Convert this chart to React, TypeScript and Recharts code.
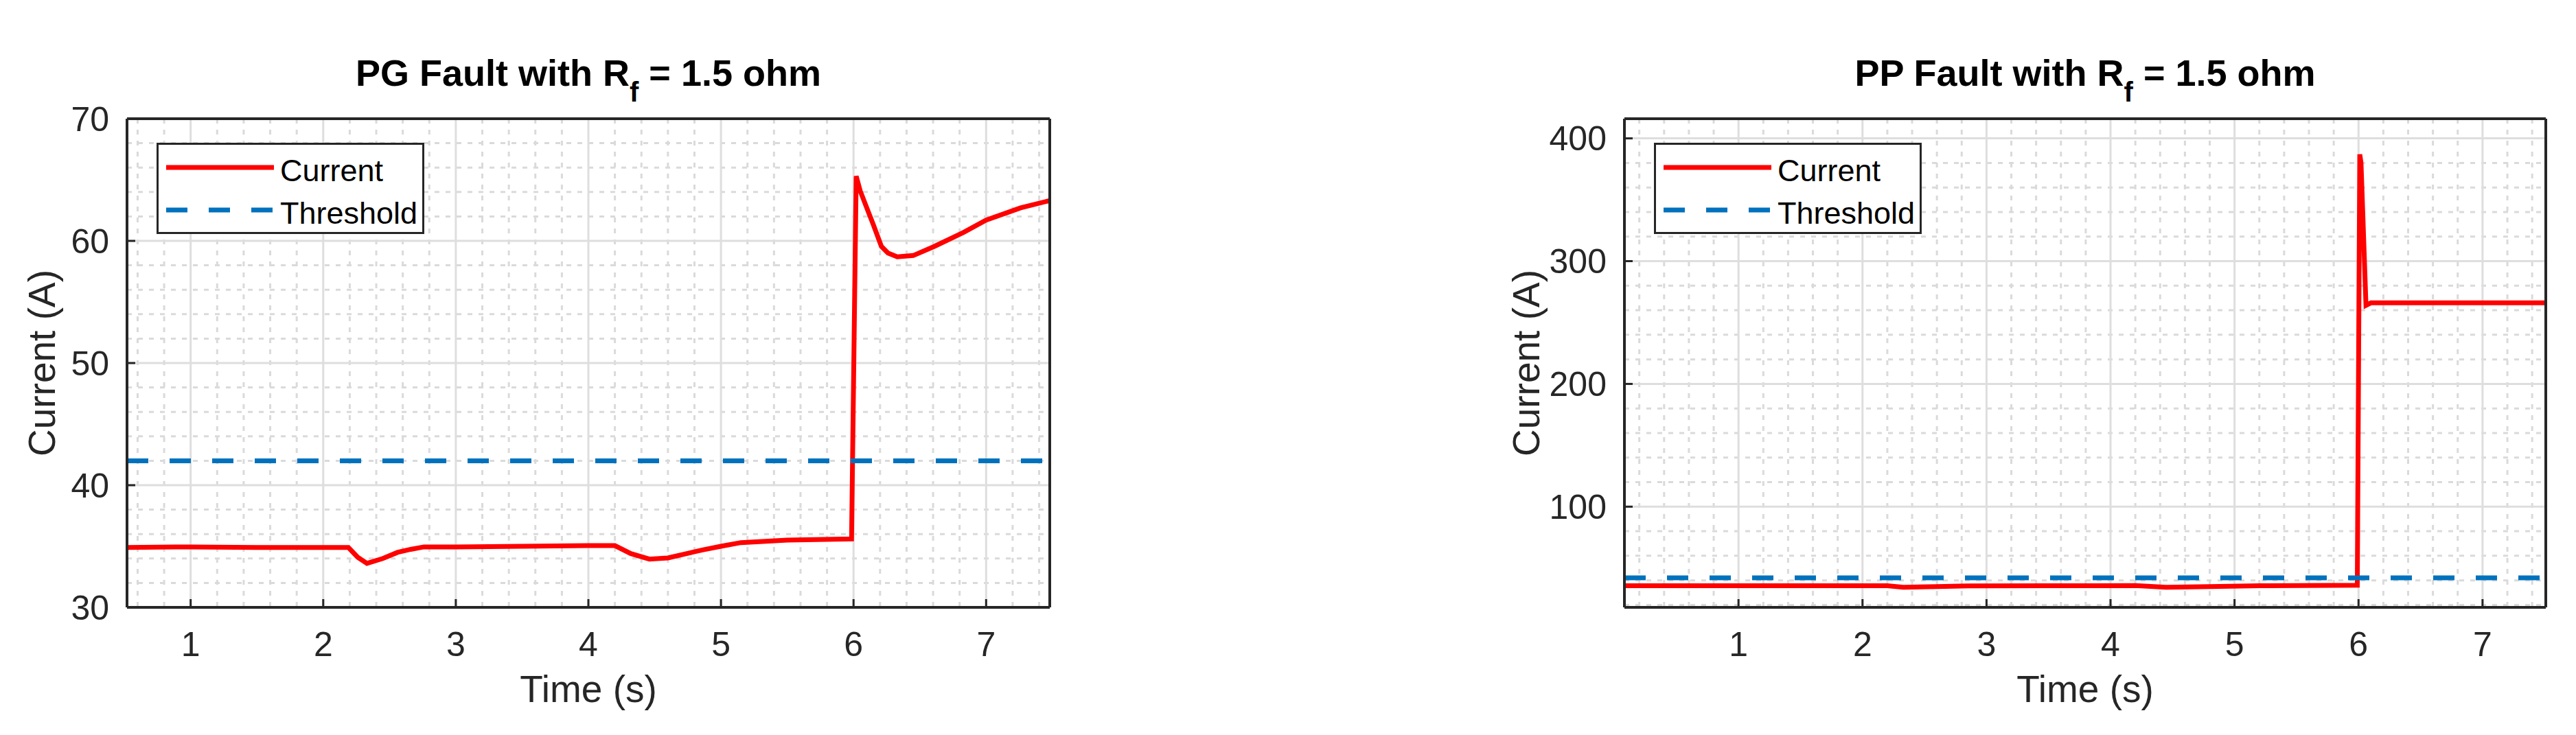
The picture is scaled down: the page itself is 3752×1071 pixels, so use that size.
import { LineChart, Line, XAxis, YAxis, CartesianGrid, Legend } from 'recharts'

const FONT = '"Liberation Sans", Arial, Helvetica, sans-serif'
const AXIS_COLOR = '#262626'
const RED = '#ff0000'
const BLUE = '#0072bd'

// PG fault (left panel)
const PG_TIME = [
  0.52, 1.0, 1.5, 2.0, 2.19, 2.26, 2.33, 2.45, 2.56, 2.66, 2.76, 3.0, 3.5, 4.0, 4.2, 4.32, 4.46, 4.6,
  4.72, 4.86, 5.0, 5.15, 5.5, 5.985, 6.02, 6.05, 6.1, 6.15, 6.21, 6.26, 6.33, 6.45, 6.61, 6.83, 7.0,
  7.26, 7.48,
]
const PG_CURRENT = [
  34.9, 34.95, 34.9, 34.9, 34.9, 34.1, 33.6, 34.0, 34.5, 34.75, 34.95, 34.95, 35.0, 35.05, 35.05,
  34.4, 33.95, 34.05, 34.35, 34.7, 35.0, 35.3, 35.5, 35.6, 65.3, 64.1, 62.7, 61.3, 59.55, 59.0, 58.7,
  58.8, 59.55, 60.7, 61.7, 62.7, 63.3,
]
const PG_THRESHOLD_TIME = [0.52, 7.48]
const PG_THRESHOLD = [42, 42]

// PP fault (right panel)
const PP_TIME = [
  0.08, 1.0, 2.0, 2.2, 2.33, 2.6, 2.85, 3.5, 4.2, 4.45, 4.8, 5.2, 5.99, 6.01, 6.02, 6.06, 6.1, 6.5,
  7.0, 7.51,
]
const PP_CURRENT = [
  35.6, 35.6, 35.6, 35.6, 34.3, 34.9, 35.5, 35.6, 35.7, 34.4, 34.9, 35.6, 36.0, 387, 380, 264, 266,
  266, 266, 266,
]
const PP_THRESHOLD_TIME = [0.08, 7.51]
const PP_THRESHOLD = [42, 42]

// ticks
const X_TICKS = [1, 2, 3, 4, 5, 6, 7]
const PG_X_MINOR = [
  0.6, 0.8, 1.2, 1.4, 1.6, 1.8, 2.2, 2.4, 2.6, 2.8, 3.2, 3.4, 3.6, 3.8, 4.2, 4.4, 4.6, 4.8, 5.2, 5.4,
  5.6, 5.8, 6.2, 6.4, 6.6, 6.8, 7.2, 7.4,
]
const PP_X_MINOR = [
  0.2, 0.4, 0.6, 0.8, 1.2, 1.4, 1.6, 1.8, 2.2, 2.4, 2.6, 2.8, 3.2, 3.4, 3.6, 3.8, 4.2, 4.4, 4.6, 4.8,
  5.2, 5.4, 5.6, 5.8, 6.2, 6.4, 6.6, 6.8, 7.2, 7.4,
]
const PG_Y_TICKS = [30, 40, 50, 60, 70]
const PG_Y_MINOR = [32, 34, 36, 38, 42, 44, 46, 48, 52, 54, 56, 58, 62, 64, 66, 68]
const PP_Y_TICKS = [100, 200, 300, 400]
const PP_Y_MINOR = [20, 40, 60, 80, 120, 140, 160, 180, 220, 240, 260, 280, 320, 340, 360, 380]

const zip = (t: number[], v: number[]) => t.map((x, i) => ({ t: x, i: v[i] }))

const CHART_H = 1071
const PLOT_TOP = 173
const PLOT_BOTTOM = 885
const Y_AXIS_W = 180
const X_AXIS_H = 150

const tickStyle = { fontSize: 50, fill: AXIS_COLOR, fontFamily: FONT }
const labelStyle = { fontSize: 55, fill: AXIS_COLOR, fontFamily: FONT, textAnchor: 'middle' as const }

const renderTitle = (prefix: string) => (props: any) => {
  const vb = props.viewBox || { x: 0, y: 0, width: 0 }
  return (
    <text
      x={vb.x + vb.width / 2}
      y={vb.y - 47}
      textAnchor="middle"
      fontFamily={FONT}
      fontSize={54}
      fontWeight="bold"
      fill="#000"
    >
      {prefix} Fault with R<tspan dy={23} fontSize={40}>f</tspan>
      <tspan dy={-23}> = 1.5 ohm</tspan>
    </text>
  )
}

const renderLegend = (props: any) => (
  <div
    style={{
      boxSizing: 'border-box',
      width: 390,
      height: 133,
      border: `3px solid ${AXIS_COLOR}`,
      background: '#fff',
      paddingTop: 2,
      fontFamily: FONT,
    }}
  >
    {(props.payload || []).map((entry: any) => (
      <div key={entry.value} style={{ display: 'flex', alignItems: 'center', height: 62 }}>
        <svg width={168} height={14} style={{ flex: 'none' }}>
          <line
            x1={11}
            x2={168}
            y1={7}
            y2={7}
            stroke={entry.color}
            strokeWidth={7}
            strokeDasharray={entry.value === 'Threshold' ? '31 31' : undefined}
          />
        </svg>
        <span
          style={{ marginLeft: 9, fontSize: 45, color: '#000', lineHeight: 1, position: 'relative', top: 4 }}
        >
          {entry.value}
        </span>
      </div>
    ))}
  </div>
)

interface FaultChartProps {
  left: number
  width: number
  plotLeft: number
  plotRight: number
  legendLeft: number
  yLabelX: number
  prefix: string
  current: { t: number; i: number }[]
  threshold: { t: number; i: number }[]
  xDomain: [number, number]
  xMinor: number[]
  yDomain: [number, number]
  yTicks: number[]
  yMinor: number[]
}

function FaultChart(p: FaultChartProps) {
  const margin = {
    top: PLOT_TOP - 1,
    right: p.width - p.plotRight - 1,
    bottom: CHART_H - PLOT_BOTTOM - X_AXIS_H,
    left: p.plotLeft - Y_AXIS_W,
  }
  const axisLine = { stroke: AXIS_COLOR, strokeWidth: 4 }
  const tickLine = { stroke: AXIS_COLOR, strokeWidth: 3 }

  return (
    <div style={{ position: 'absolute', left: p.left, top: 0 }}>
      <LineChart width={p.width} height={CHART_H} margin={margin}>
        {/* minor grid (dotted) */}
        <CartesianGrid
          stroke="#dadada"
          strokeWidth={3}
          strokeDasharray="7 9"
          horizontalValues={p.yMinor}
          verticalValues={p.xMinor}
        />
        {/* major grid */}
        <CartesianGrid stroke="#dedede" strokeWidth={3} />
        <XAxis
          type="number"
          dataKey="t"
          domain={p.xDomain}
          allowDataOverflow
          ticks={X_TICKS}
          interval={0}
          height={X_AXIS_H}
          stroke={AXIS_COLOR}
          axisLine={axisLine}
          tickLine={tickLine}
          tickSize={-12}
          tickMargin={47}
          tick={tickStyle}
          label={{ value: 'Time (s)', position: 'insideBottom', offset: 12, style: labelStyle }}
        />
        <XAxis
          xAxisId="top"
          orientation="top"
          type="number"
          dataKey="t"
          domain={p.xDomain}
          allowDataOverflow
          ticks={X_TICKS}
          interval={0}
          height={1}
          stroke={AXIS_COLOR}
          axisLine={axisLine}
          tickLine={tickLine}
          tickSize={-12}
          tick={false}
          label={renderTitle(p.prefix)}
        />
        <YAxis
          type="number"
          domain={p.yDomain}
          allowDataOverflow
          ticks={p.yTicks}
          interval={0}
          width={Y_AXIS_W}
          stroke={AXIS_COLOR}
          axisLine={axisLine}
          tickLine={tickLine}
          tickSize={-12}
          tickMargin={38}
          tick={tickStyle}
          label={{
            value: 'Current (A)',
            angle: -90,
            position: 'insideLeft',
            offset: p.yLabelX - margin.left,
            style: labelStyle,
          }}
        />
        <YAxis
          yAxisId="right"
          orientation="right"
          type="number"
          domain={p.yDomain}
          allowDataOverflow
          ticks={p.yTicks}
          interval={0}
          width={1}
          stroke={AXIS_COLOR}
          axisLine={axisLine}
          tickLine={tickLine}
          tickSize={-12}
          tick={false}
        />
        <Line
          data={p.current}
          dataKey="i"
          name="Current"
          type="linear"
          stroke={RED}
          strokeWidth={7}
          dot={false}
          activeDot={false}
          isAnimationActive={false}
        />
        <Line
          data={p.threshold}
          dataKey="i"
          name="Threshold"
          type="linear"
          stroke={BLUE}
          strokeWidth={7}
          strokeDasharray="31 31"
          dot={false}
          activeDot={false}
          isAnimationActive={false}
        />
        <Legend
          layout="vertical"
          verticalAlign="middle"
          align="center"
          wrapperStyle={{ left: p.legendLeft, top: 208, width: 390, height: 133, right: 'auto', bottom: 'auto' }}
          content={renderLegend}
        />
      </LineChart>
    </div>
  )
}

export default function App() {
  return (
    <div
      style={{
        position: 'absolute',
        left: 0,
        top: 0,
        width: 3752,
        height: 1071,
        background: '#fff',
        overflow: 'hidden',
      }}
    >
      <FaultChart
        left={0}
        width={1876}
        plotLeft={185}
        plotRight={1529}
        legendLeft={228}
        yLabelX={60}
        prefix="PG"
        current={zip(PG_TIME, PG_CURRENT)}
        threshold={zip(PG_THRESHOLD_TIME, PG_THRESHOLD)}
        xDomain={[0.52, 7.48]}
        xMinor={PG_X_MINOR}
        yDomain={[30, 70]}
        yTicks={PG_Y_TICKS}
        yMinor={PG_Y_MINOR}
      />
      <FaultChart
        left={1876}
        width={1876}
        plotLeft={490}
        plotRight={1832}
        legendLeft={533}
        yLabelX={346}
        prefix="PP"
        current={zip(PP_TIME, PP_CURRENT)}
        threshold={zip(PP_THRESHOLD_TIME, PP_THRESHOLD)}
        xDomain={[0.08, 7.51]}
        xMinor={PP_X_MINOR}
        yDomain={[18, 416]}
        yTicks={PP_Y_TICKS}
        yMinor={PP_Y_MINOR}
      />
    </div>
  )
}
